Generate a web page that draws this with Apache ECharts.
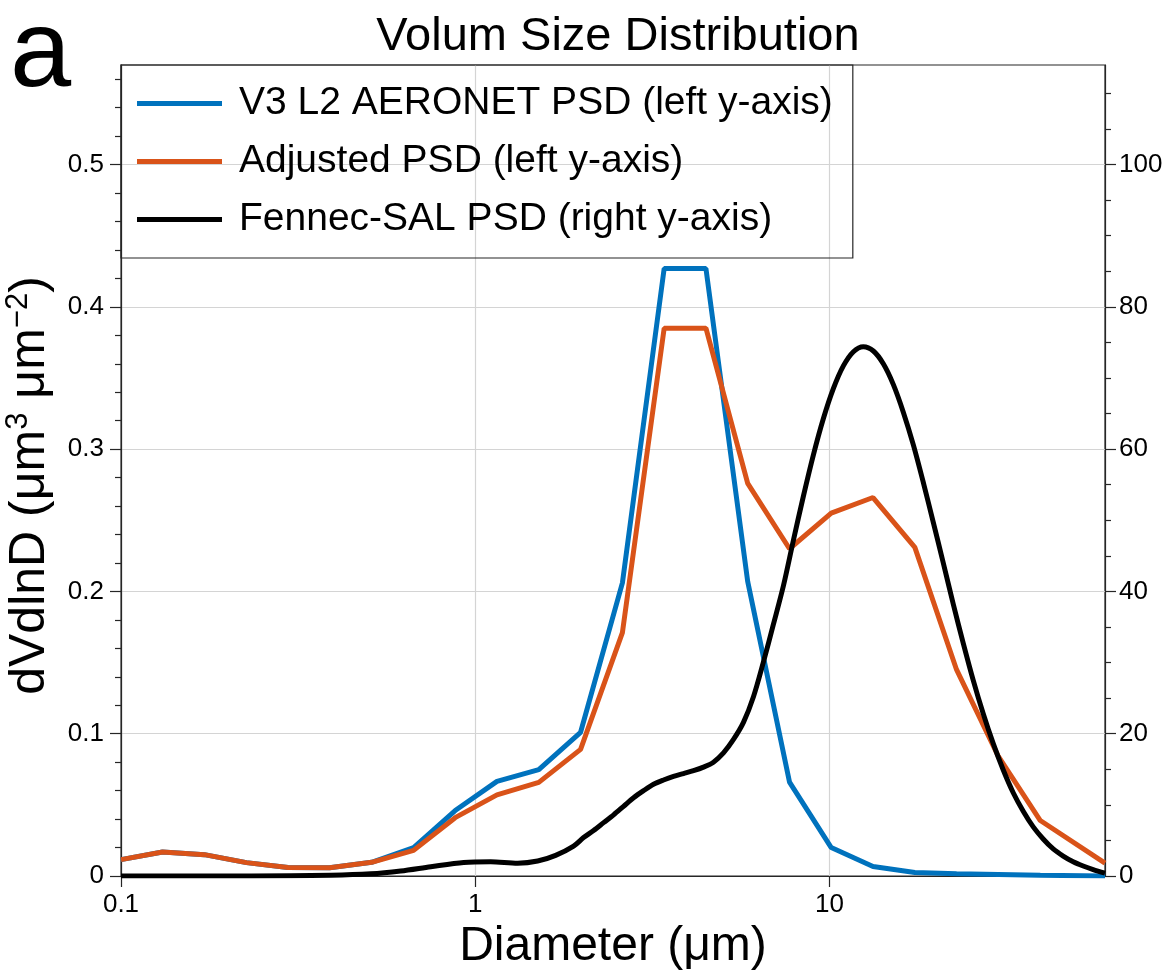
<!DOCTYPE html>
<html>
<head>
<meta charset="utf-8">
<script src="https://cdn.jsdelivr.net/npm/echarts@6/dist/echarts.min.js"></script>
<style>
html,body{margin:0;padding:0;background:#fff;}
#chart{width:1171px;height:972px;}
</style>
</head>
<body>
<div id="chart"></div>
<script>
// ---- data ----
var diameters = [0.1, 0.131, 0.172, 0.226, 0.296, 0.388, 0.51, 0.67, 0.878, 1.152, 1.512, 1.984,
                 2.604, 3.416, 4.482, 5.88, 7.716, 10.12, 13.28, 17.43, 22.86, 30.0, 39.4, 60];
var aeronetPSD = [0.0115, 0.0169, 0.015, 0.0094, 0.0059, 0.0058, 0.0096, 0.020, 0.046, 0.0665, 0.0747, 0.101,
                  0.206, 0.427, 0.427, 0.207, 0.066, 0.020, 0.0067, 0.0025, 0.0015, 0.001, 0.0005, 0.0];
var adjustedPSD = [0.0115, 0.0169, 0.015, 0.0094, 0.0059, 0.0058, 0.0096, 0.018, 0.041, 0.057, 0.0658, 0.089,
                   0.171, 0.385, 0.385, 0.276, 0.230, 0.255, 0.266, 0.231, 0.145, 0.084, 0.039, 0.009];
var fennecDiameters = [0.1, 0.233, 0.391, 0.507, 0.616, 0.749, 0.928, 1.106, 1.318, 1.501, 1.687,
                       1.896, 2.023, 2.159, 2.304, 2.459, 2.624, 2.800, 2.988, 3.188, 3.402, 3.630, 3.874,
                       4.134, 4.411, 4.707, 5.023, 5.361, 5.720, 6.104, 6.514, 6.951, 7.417, 7.915, 8.446,
                       9.013, 9.618, 10.26, 10.95, 11.69, 12.47, 13.31, 14.20, 15.15, 16.17, 17.26, 18.42,
                       19.65, 20.97, 22.38, 23.88, 25.48, 27.19, 29.02, 30.97, 33.04, 35.26, 37.63, 40.15,
                       42.85, 45.72, 48.79, 52.07, 55.56, 60];
var fennecPSD = [0, 0, 0.1, 0.3, 0.7, 1.3, 1.9, 2.0, 1.8, 2.1, 2.9,
                 4.2, 5.4, 6.4, 7.5, 8.6, 9.8, 11.0, 12.0, 12.9, 13.5, 14.0, 14.4,
                 14.8, 15.3, 16.0, 17.3, 19.2, 21.6, 25.2, 30.1, 35.4, 40.8, 47.2, 53.4,
                 59.2, 64.3, 68.5, 71.7, 73.7, 74.4, 73.8, 72.0, 69.1, 65.2, 60.6, 55.3,
                 49.7, 44.0, 38.2, 32.7, 27.5, 22.8, 18.6, 14.9, 11.7, 9.1, 6.9, 5.2,
                 3.8, 2.8, 2.0, 1.4, 0.9, 0.4];
var xTicks = [0.1, 1, 10];
var leftTicks = [0, 0.1, 0.2, 0.3, 0.4, 0.5];
var leftMinorTicks = [0.02, 0.04, 0.06, 0.08, 0.12, 0.14, 0.16, 0.18, 0.22, 0.24, 0.26, 0.28,
                      0.32, 0.34, 0.36, 0.38, 0.42, 0.44, 0.46, 0.48, 0.52, 0.54, 0.56];
var rightTicks = [0, 20, 40, 60, 80, 100];
var rightMinorTicks = [5, 10, 15, 25, 30, 35, 45, 50, 55, 65, 70, 75, 85, 90, 95, 105, 110];
var seriesNames = ['V3 L2 AERONET PSD (left y-axis)', 'Adjusted PSD (left y-axis)', 'Fennec-SAL PSD (right y-axis)'];

function pairs(xs, ys) { return xs.map(function (x, i) { return [x, ys[i]]; }); }

var FONT = '"Liberation Sans", Arial, sans-serif';
var AX = '#262626';
var chart = echarts.init(document.getElementById('chart'), null, {renderer: 'canvas'});

var option = {
  backgroundColor: '#ffffff',
  animation: false,
  textStyle: {fontFamily: FONT},
  title: {
    text: 'Volum Size Distribution',
    left: 613, top: 9, textAlign: 'center',
    textStyle: {fontFamily: FONT, fontSize: 47, fontWeight: 'normal', color: '#000'}
  },
  graphic: [{
    type: 'text', left: 10, top: 1,
    style: {text: 'a', fontFamily: FONT, fontSize: 110, fill: '#000'}
  }],
  legend: {
    orient: 'vertical', left: 121, top: 65,
    padding: [19, 20, 19, 16],
    borderColor: AX, borderWidth: 1.2,
    backgroundColor: 'transparent',
    icon: 'rect', itemWidth: 85, itemHeight: 5, itemGap: 19,
    textStyle: {fontFamily: FONT, fontSize: 39, color: '#000', lineHeight: 38, padding: [0, 0, 0, 12]},
    data: seriesNames
  },
  grid: {
    left: 121, right: 66, top: 65, bottom: 96,
    outerBoundsMode: 'none', containLabel: false,
    show: true, borderColor: AX, borderWidth: 1.2, backgroundColor: 'transparent'
  },
  xAxis: {
    type: 'log', logBase: 10, min: 0.1, max: 60,
    name: 'Diameter (μm)', nameLocation: 'middle', nameGap: 42,
    nameTextStyle: {fontFamily: FONT, fontSize: 48, color: '#000'},
    axisLine: {show: true, lineStyle: {color: AX, width: 1.2}},
    axisTick: {show: true, inside: false, length: 11, lineStyle: {color: AX, width: 1.2}, customValues: xTicks},
    axisLabel: {show: true, margin: 16, fontFamily: FONT, fontSize: 26, color: '#000',
      customValues: xTicks,
      formatter: function (v) { return String(Math.round(v * 10) / 10); }},
    splitLine: {show: true, lineStyle: {color: '#d4d4d4', width: 1.2}},
    minorTick: {show: false}
  },
  yAxis: [{
    type: 'value', position: 'left', min: 0, max: 0.57, interval: 0.1,
    name: 'dVdlnD (μm{sup|3} μm{sup|−2})', nameLocation: 'middle', nameGap: 57, nameRotate: 90,
    nameTextStyle: {fontFamily: FONT, fontSize: 50, color: '#000', lineHeight: 54,
      padding: [0, 30, 0, 0],
      rich: {sup: {fontFamily: FONT, fontSize: 31, lineHeight: 32, verticalAlign: 'top', color: '#000'}}},
    axisLine: {show: true, lineStyle: {color: AX, width: 1.2}},
    axisTick: {show: true, inside: false, length: 11, lineStyle: {color: AX, width: 1.2}, customValues: leftTicks},
    axisLabel: {show: true, margin: 17, fontFamily: FONT, fontSize: 26, color: '#000',
      customValues: leftTicks,
      formatter: function (v) { return v === 0 ? '0' : String(Math.round(v * 10) / 10); }},
    splitLine: {show: true, lineStyle: {color: '#d4d4d4', width: 1.2}}
  }, {
    type: 'value', position: 'right', min: 0, max: 114, interval: 20,
    axisLine: {show: true, lineStyle: {color: AX, width: 1.2}},
    axisTick: {show: true, inside: false, length: 11, lineStyle: {color: AX, width: 1.2}, customValues: rightTicks},
    axisLabel: {show: true, margin: 14, fontFamily: FONT, fontSize: 26, color: '#000', customValues: rightTicks},
    splitLine: {show: false}
  }, {
    type: 'value', position: 'left', min: 0, max: 0.57, interval: 0.02,
    axisLine: {show: false},
    axisTick: {show: true, inside: false, length: 6, lineStyle: {color: AX, width: 1.2}, customValues: leftMinorTicks},
    axisLabel: {show: false},
    splitLine: {show: false}
  }, {
    type: 'value', position: 'right', min: 0, max: 114, interval: 5,
    axisLine: {show: false},
    axisTick: {show: true, inside: false, length: 6, lineStyle: {color: AX, width: 1.2}, customValues: rightMinorTicks},
    axisLabel: {show: false},
    splitLine: {show: false}
  }],
  series: [{
    name: seriesNames[0], type: 'line', yAxisIndex: 0, showSymbol: false, symbol: 'none',
    data: pairs(diameters, aeronetPSD),
    lineStyle: {color: '#0072BD', width: 5}, itemStyle: {color: '#0072BD'}, z: 2
  }, {
    name: seriesNames[1], type: 'line', yAxisIndex: 0, showSymbol: false, symbol: 'none',
    data: pairs(diameters, adjustedPSD),
    lineStyle: {color: '#D95319', width: 5}, itemStyle: {color: '#D95319'}, z: 3
  }, {
    name: seriesNames[2], type: 'line', yAxisIndex: 1, showSymbol: false, symbol: 'none',
    smooth: 0.3,
    data: pairs(fennecDiameters, fennecPSD),
    lineStyle: {color: '#000000', width: 5, join: 'round'}, itemStyle: {color: '#000000'}, z: 4
  }]
};
chart.setOption(option);
</script>
</body>
</html>
